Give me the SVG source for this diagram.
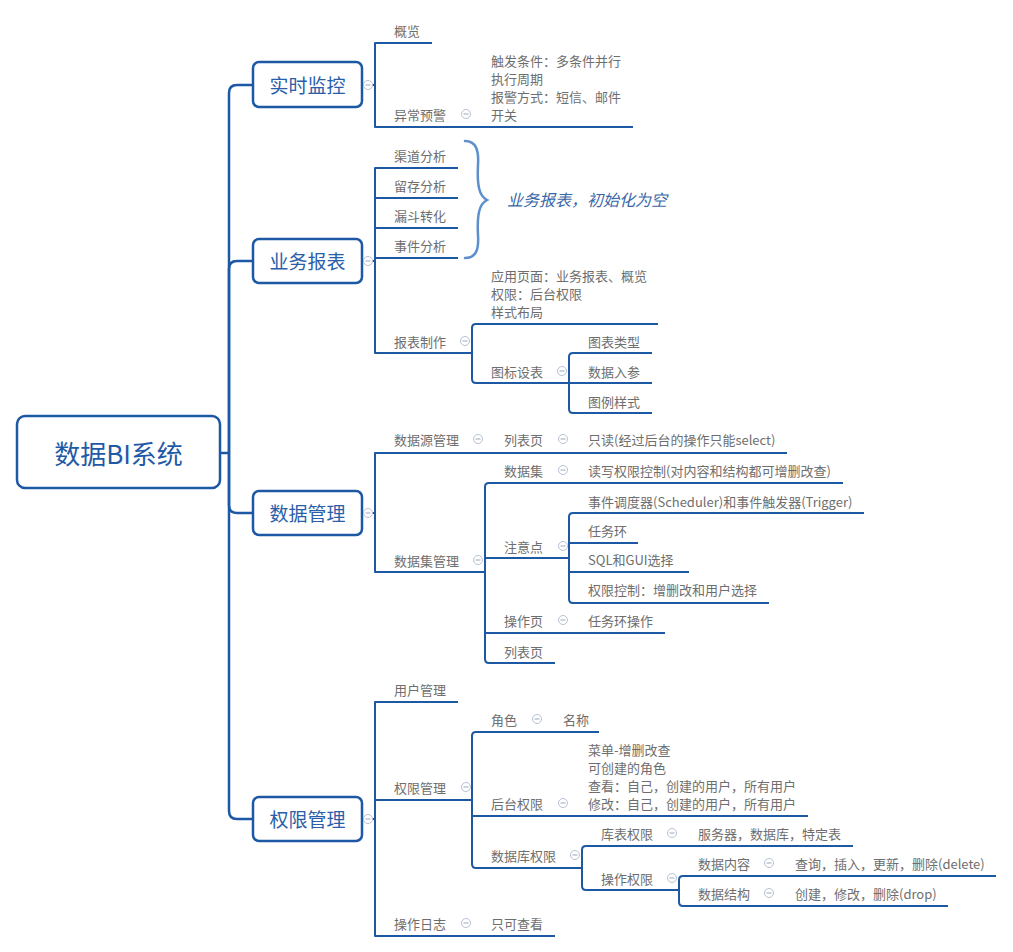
<svg xmlns="http://www.w3.org/2000/svg" xmlns:xlink="http://www.w3.org/1999/xlink" width="1013" height="952" viewBox="0 0 1013 952">
<style>
.bg{fill:#ffffff}
.ln{fill:none;stroke:#1c58a3;stroke-width:2;stroke-linejoin:round}
.tr{fill:none;stroke:#1c58a3;stroke-width:2.5}
.box{fill:#ffffff;stroke:#1c58a3;stroke-width:2.5}
.root{font-family:"Noto Sans CJK SC","Microsoft YaHei",sans-serif;font-size:26px;fill:#1f5aa6;text-anchor:middle;dominant-baseline:central}
.l1{font-family:"Noto Sans CJK SC","Microsoft YaHei",sans-serif;font-size:19px;fill:#2a5ea8;text-anchor:middle;dominant-baseline:central}
.t{font-family:"Noto Sans CJK SC","Microsoft YaHei",sans-serif;font-size:13px;fill:#6e6e6e;dominant-baseline:central}
.note{font-family:"Noto Sans CJK SC","Microsoft YaHei",sans-serif;font-size:16px;font-style:italic;fill:#3a67a8;dominant-baseline:central}
.brace{fill:none;stroke:#5c8fcc;stroke-width:2.5;stroke-linecap:round}
.icc{fill:#ffffff;stroke:#b5c2d6;stroke-width:1}
.icm{stroke:#9aa8bd;stroke-width:1}
</style>
<defs>
<g id="col"><circle class="icc" cx="0" cy="0" r="4.5"/><line class="icm" x1="-2.5" y1="0" x2="2.5" y2="0"/></g>
</defs>
<rect class="bg" x="0" y="0" width="1013" height="952"/>

<g id="connectors">
<!-- trunk -->
<path class="tr" d="M220,453 H229"/>
<path class="tr" d="M229,453 V93 Q229,85 237,85 H253"/>
<path class="tr" d="M229,453 V269 Q229,261 237,261 H253"/>
<path class="tr" d="M229,453 V505 Q229,513 237,513 H253"/>
<path class="tr" d="M229,453 V811 Q229,819 237,819 H253"/>
<!-- 实时监控 -->
<path class="ln" d="M362,85 H375"/>
<path class="ln" d="M432,43 H375 V127 H633"/>
<!-- 业务报表 -->
<path class="ln" d="M362,261 H375"/>
<path class="ln" d="M458,168 H375 V353 H472"/>
<path class="ln" d="M375,198 H458 M375,228 H458 M375,258 H458"/>
<path class="ln" d="M658,324 H476 Q472,324 472,328 V379 Q472,383 476,383 H569"/>
<path class="ln" d="M652,353 H573 Q569,353 569,357 V409 Q569,413 573,413 H652"/>
<path class="ln" d="M569,383 H652"/>
<!-- 数据管理 -->
<path class="ln" d="M362,513 H375"/>
<path class="ln" d="M787,453 H375 V572 H485"/>
<path class="ln" d="M843,483 H489 Q485,483 485,487 V659 Q485,663 489,663 H555"/>
<path class="ln" d="M485,558 H569 M485,633 H665"/>
<path class="ln" d="M864,513 H573 Q569,513 569,517 V599 Q569,603 573,603 H769"/>
<path class="ln" d="M569,543 H638 M569,572 H689"/>
<!-- 权限管理 -->
<path class="ln" d="M362,819 H375"/>
<path class="ln" d="M458,702 H375 V936 H555"/>
<path class="ln" d="M375,800 H472"/>
<path class="ln" d="M599,732 H476 Q472,732 472,736 V864 Q472,868 476,868 H582"/>
<path class="ln" d="M472,816 H808"/>
<path class="ln" d="M853,846 H586 Q582,846 582,850 V886 Q582,890 586,890 H679"/>
<path class="ln" d="M996,876 H683 Q679,876 679,880 V902 Q679,906 683,906 H948"/>
<!-- brace -->
<path class="brace" d="M465,141 C476,141 479,150 478,165 C477,185 479,196 487,200 C479,204 477,215 478,235 C479,250 476,258 465,258"/>
</g>

<g id="root">
<rect class="box" x="17" y="416" width="203" height="72" rx="8"/>
<text class="root" x="118.5" y="452">数据BI系统</text>
</g>

<g id="n-shishi">
<rect class="box" x="253" y="62" width="109" height="45" rx="6"/>
<text class="l1" x="307.5" y="84.5">实时监控</text>
<use xlink:href="#col" x="368" y="85"/>
</g>
<g id="n-gailan"><text class="t" x="394" y="30">概览</text></g>
<g id="n-yichang"><text class="t" x="394" y="114">异常预警</text><use xlink:href="#col" x="466" y="114"/></g>
<g id="n-yichang-d">
<text class="t" x="491" y="60">触发条件：多条件并行</text>
<text class="t" x="491" y="78.3">执行周期</text>
<text class="t" x="491" y="96.6">报警方式：短信、邮件</text>
<text class="t" x="491" y="114.9">开关</text>
</g>

<g id="n-yewu">
<rect class="box" x="253" y="239" width="109" height="44" rx="6"/>
<text class="l1" x="307.5" y="260.5">业务报表</text>
<use xlink:href="#col" x="368" y="261"/>
</g>
<g id="n-qudao"><text class="t" x="394" y="155">渠道分析</text></g>
<g id="n-liucun"><text class="t" x="394" y="185">留存分析</text></g>
<g id="n-loudou"><text class="t" x="394" y="215">漏斗转化</text></g>
<g id="n-shijian"><text class="t" x="394" y="245">事件分析</text></g>
<g id="n-note"><text class="note" x="507" y="199">业务报表，初始化为空</text></g>
<g id="n-baobiao"><text class="t" x="394" y="341">报表制作</text><use xlink:href="#col" x="465" y="341"/></g>
<g id="n-baobiao-d">
<text class="t" x="491" y="275">应用页面：业务报表、概览</text>
<text class="t" x="491" y="293">权限：后台权限</text>
<text class="t" x="491" y="311">样式布局</text>
</g>
<g id="n-tubiao"><text class="t" x="491" y="371">图标设表</text><use xlink:href="#col" x="562" y="371"/></g>
<g id="n-leixing"><text class="t" x="588" y="341">图表类型</text></g>
<g id="n-rucan"><text class="t" x="588" y="371">数据入参</text></g>
<g id="n-yangshi"><text class="t" x="588" y="401">图例样式</text></g>

<g id="n-shuju">
<rect class="box" x="253" y="491" width="109" height="44" rx="6"/>
<text class="l1" x="307.5" y="512.5">数据管理</text>
<use xlink:href="#col" x="368" y="513"/>
</g>
<g id="n-sjy"><text class="t" x="394" y="439">数据源管理</text><use xlink:href="#col" x="478" y="439"/></g>
<g id="n-lby1"><text class="t" x="504" y="439">列表页</text><use xlink:href="#col" x="563" y="439"/></g>
<g id="n-zhidu"><text class="t" x="588" y="439">只读(经过后台的操作只能select)</text></g>
<g id="n-sjjgl"><text class="t" x="394" y="560">数据集管理</text><use xlink:href="#col" x="478" y="560"/></g>
<g id="n-sjj"><text class="t" x="504" y="470">数据集</text><use xlink:href="#col" x="563" y="470"/></g>
<g id="n-duxie"><text class="t" x="588" y="470">读写权限控制(对内容和结构都可增删改查)</text></g>
<g id="n-zhuyi"><text class="t" x="504" y="546">注意点</text><use xlink:href="#col" x="563" y="546"/></g>
<g id="n-diaodu"><text class="t" x="588" y="501">事件调度器(Scheduler)和事件触发器(Trigger)</text></g>
<g id="n-renwuhuan"><text class="t" x="588" y="530">任务环</text></g>
<g id="n-sql"><text class="t" x="588" y="559">SQL和GUI选择</text></g>
<g id="n-qxkz"><text class="t" x="588" y="589">权限控制：增删改和用户选择</text></g>
<g id="n-czy"><text class="t" x="504" y="620">操作页</text><use xlink:href="#col" x="563" y="620"/></g>
<g id="n-rwhcz"><text class="t" x="588" y="620">任务环操作</text></g>
<g id="n-lby2"><text class="t" x="504" y="651">列表页</text></g>

<g id="n-quanxian">
<rect class="box" x="253" y="797" width="109" height="44" rx="6"/>
<text class="l1" x="307.5" y="818.5">权限管理</text>
<use xlink:href="#col" x="368" y="819"/>
</g>
<g id="n-yhgl"><text class="t" x="394" y="689">用户管理</text></g>
<g id="n-qxgl"><text class="t" x="394" y="787">权限管理</text><use xlink:href="#col" x="466" y="787"/></g>
<g id="n-juese"><text class="t" x="491" y="719">角色</text><use xlink:href="#col" x="537" y="719"/></g>
<g id="n-mingcheng"><text class="t" x="563" y="719">名称</text></g>
<g id="n-htqx"><text class="t" x="491" y="803">后台权限</text><use xlink:href="#col" x="563" y="803"/></g>
<g id="n-htqx-d">
<text class="t" x="588" y="749">菜单-增删改查</text>
<text class="t" x="588" y="767">可创建的角色</text>
<text class="t" x="588" y="785">查看：自己，创建的用户，所有用户</text>
<text class="t" x="588" y="803">修改：自己，创建的用户，所有用户</text>
</g>
<g id="n-sjkqx"><text class="t" x="491" y="855">数据库权限</text><use xlink:href="#col" x="575" y="855"/></g>
<g id="n-kbqx"><text class="t" x="601" y="833">库表权限</text><use xlink:href="#col" x="672" y="833"/></g>
<g id="n-fwq"><text class="t" x="698" y="833">服务器，数据库，特定表</text></g>
<g id="n-czqx"><text class="t" x="601" y="878">操作权限</text><use xlink:href="#col" x="672" y="878"/></g>
<g id="n-sjnr"><text class="t" x="698" y="863">数据内容</text><use xlink:href="#col" x="769" y="863"/></g>
<g id="n-cx"><text class="t" x="795" y="863">查询，插入，更新，删除(delete)</text></g>
<g id="n-sjjg"><text class="t" x="698" y="893">数据结构</text><use xlink:href="#col" x="769" y="893"/></g>
<g id="n-cj"><text class="t" x="795" y="893">创建，修改，删除(drop)</text></g>
<g id="n-czrz"><text class="t" x="394" y="923">操作日志</text><use xlink:href="#col" x="466" y="923"/></g>
<g id="n-zkck"><text class="t" x="491" y="923">只可查看</text></g>
</svg>
